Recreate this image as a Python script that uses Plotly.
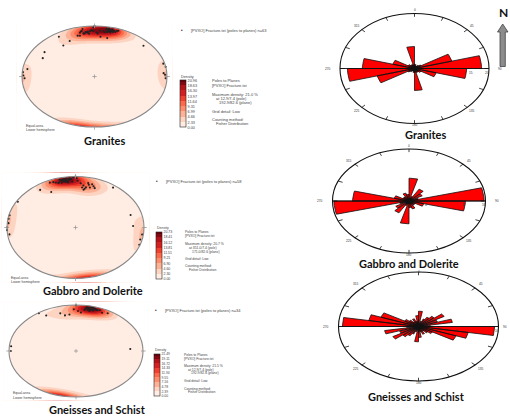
import numpy as np
import plotly.graph_objects as go

W, H = 510, 416

# ---------------- stereonet data: poles to fracture planes (trend, plunge, deg) ----------------
granite_trend = [352, 355, 348, 350, 357, 346, 353, 359, 351, 356, 344, 349, 354, 347, 358,
                 10, 12, 14, 13, 16, 11, 15, 18, 9, 13, 17, 12, 14, 19, 11, 15, 13, 20, 8,
                 0, 328, 334, 325, 305, 297, 279, 48, 6, 13, 75, 79,
                 2, 5, 359, 3,
                 88, 92, 86, 271, 268, 275,
                 354, 350, 16, 12, 14, 350, 10]
granite_plunge = [12, 16, 10, 14, 9, 18, 13, 10, 15, 11, 17, 9, 14, 12, 10,
                  6, 8, 5, 9, 7, 10, 4, 8, 12, 7, 6, 3, 9, 5, 11, 8, 7, 4, 10,
                  0, 8, 23, 26, 17, 21, 7, 10, 22, 23, 2, 0,
                  14, 10, 3, 16,
                  3, 2, 5, 2, 4, 1,
                  12, 5, 9, 6, 11, 15, 4]

gabbro_trend = [351, 348, 353, 346, 350, 355, 344, 352, 349, 357, 347, 351, 354, 342, 350, 353,
                348, 356, 345, 352, 349, 351, 340, 355, 347, 350,
                5, 8, 12, 15, 10, 18, 7, 13, 20, 9, 16, 11,
                325, 333, 301, 284, 270, 267, 73, 88, 35, 0, 337,
                98, 104, 110,
                275, 280, 262,
                1, 358, 2]
gabbro_plunge = [7, 5, 9, 4, 8, 6, 10, 3, 7, 11, 5, 9, 6, 8, 4, 12,
                 7, 5, 9, 6, 8, 10, 6, 3, 11, 7,
                 14, 18, 12, 20, 24, 16, 22, 15, 19, 26, 13, 21,
                 11, 23, 2, 1, 0, 0, 17, 17, 5, 0, 5,
                 2, 3, 1,
                 2, 1, 3,
                 4, 2, 9]

gneiss_trend = [12, 14, 10, 16, 13, 18, 11, 15, 9, 20, 13, 17, 12, 22, 14, 8, 16, 19, 11, 13,
                326, 330, 344, 348, 353, 270, 276, 87, 0,
                2, 358, 25, 30, 5]
gneiss_plunge = [6, 8, 4, 7, 10, 5, 9, 3, 7, 6, 12, 4, 8, 5, 2, 11, 9, 7, 5, 3,
                 1, 12, 16, 22, 21, 3, 3, 20, 1,
                 14, 10, 9, 6, 17]

# density colour-bar levels (%)
granite_levels = [0.00, 2.33, 4.66, 6.99, 9.31, 11.64, 13.97, 16.30, 18.63, 20.96]
gabbro_levels = [0.00, 2.30, 4.60, 6.90, 9.21, 11.51, 13.81, 16.12, 18.41, 20.73]
gneiss_levels = [0.00, 2.39, 4.78, 7.16, 9.55, 11.94, 14.33, 16.72, 19.11, 21.49]

granite_stats = ["Poles to Planes", "[PVXO] Fracture.txt", "Maximum density: 21.0 %",
                 "at 12.9/7.4 (pole)", "192.9/82.6 (plane)", "Grid detail: Low",
                 "Counting method:", "Fisher Distribution"]
gabbro_stats = ["Poles to Planes", "[PVXO] Fracture.txt", "Maximum density: 20.7 %",
                "at 351.0/7.4 (pole)", "171.0/82.6 (plane)", "Grid detail: Low",
                "Counting method:", "Fisher Distribution"]
gneiss_stats = ["Poles to Planes", "[PVXO] Fracture.txt", "Maximum density: 21.5 %",
                "at 12.9/7.4 (pole)", "192.9/82.6 (plane)", "Grid detail: Low",
                "Counting method:", "Fisher Distribution"]

# ---------------- rose diagram data: strike bins (bidirectional, mirrored at +180) ----------------
granite_bins = [0, 15, 30, 45, 60, 75, 90, 105, 120, 135, 150, 165]
granite_rose = [1.5, 1.0, 1.5, 2.0, 10.4, 18.0, 14.0, 6.0, 2.0, 1.5, 1.5, 8.0]
gabbro_bins = [0, 15, 30, 45, 60, 75, 90, 105, 120, 135, 150, 165]
gabbro_rose = [7.0, 1.5, 4.2, 3.2, 2.0, 15.7, 11.8, 3.2, 1.5, 1.5, 2.5, 2.0]
gneiss_bins = [0, 10, 20, 30, 40, 50, 60, 70, 80, 90, 100, 110, 120, 130, 140, 150, 160, 170]
gneiss_rose = [2.8, 1.0, 1.5, 2.0, 2.5, 3.7, 2.5, 4.3, 1.5, 9.5, 6.3, 5.0, 2.0, 1.5, 1.0, 1.5, 1.0, 2.0]
bin_width = [15, 15, 10]
rose_max = [20, 16, 10]
rose_scale_labels = [[("15", 0.78), ("20", 1.0)], [("4", 0.25), ("12", 0.75), ("16", 1.0)],
                     [("5", 0.5), ("10", 1.0)]]
rose_dir_labels = ["0", "45", "90", "135", "180", "225", "270", "315"]

titles = ["Granites", "Gabbro and Dolerite", "Gneisses and Schist"]

REDS = ['#fff5f0', '#fee0d2', '#fcbba1', '#fc9272', '#fb6a4a', '#ef3b2c', '#cb181d', '#a50f15', '#67000d']
FONT = "Liberation Sans"
TFONT = "Lato"
TSIZE = 11
PAD = 1.08
KAPPA = 30.0

fig = go.Figure()
annotations = []
shapes = []


def px(x, y):
    return x / W, 1 - y / H


def text(x, y, s, size=4.2, anchor="left", color="#444", family=FONT):
    xp, yp = px(x, y)
    annotations.append(dict(x=xp, y=yp, xref="paper", yref="paper", text=s, showarrow=False,
                            xanchor=anchor, yanchor="middle", borderpad=0,
                            font=dict(size=size, color=color, family=family)))


def make_axes(idx, cx, cy, a, b):
    x0, x1 = (cx - a * PAD) / W, (cx + a * PAD) / W
    y0, y1 = 1 - (cy + b * PAD) / H, 1 - (cy - b * PAD) / H
    sx = "" if idx == 1 else str(idx)
    fig.layout["xaxis" + sx] = dict(domain=[x0, x1], range=[-PAD, PAD], visible=False,
                                    anchor="y" + sx, fixedrange=True)
    fig.layout["yaxis" + sx] = dict(domain=[y0, y1], range=[-PAD, PAD], visible=False,
                                    anchor="x" + sx, fixedrange=True)
    return "x" + sx, "y" + sx


def pole_vectors(trend, plunge):
    t = np.radians(np.asarray(trend, float))
    colat = np.radians(90 - np.asarray(plunge, float))
    return np.stack([np.sin(colat) * np.sin(t), np.sin(colat) * np.cos(t), np.cos(colat)], -1)


def pole_xy(trend, plunge):
    t = np.radians(np.asarray(trend, float))
    r = np.sqrt(2) * np.sin(np.radians(90 - np.asarray(plunge, float)) / 2)
    return r * np.sin(t), r * np.cos(t)


stereo_geo = [(94.5, 76.5, 72.5, 50.5), (75.5, 227.5, 68.5, 51.0), (76.0, 351.0, 67.0, 46.0)]
cbar_geo = [(180, 81, 127.5), (156, 232, 279), (154, 354.5, 396)]
legend_geo = [(182, 30.5), (157, 181), (156, 310.5)]
stats_geo = [(211, [81, 85.5, 94.3, 98.3, 102.7, 111, 119, 123.3], 4.0),
             (184, [232.3, 235.7, 244, 247.7, 251.7, 258.7, 266.3, 269.7], 3.4),
             (183, [355.3, 358.7, 366, 369.7, 373.3, 381, 388.7, 392.3], 3.4)]
cbar_font = [3.8, 3.5, 3.4]
ea_geo = [(25, 126, 130), (10, 277.5, 281.5), (12, 393.3, 397.7)]
left_title_geo = [(104, 140), (92.5, 290), (97, 409.5)]

stereo_sets = [(granite_trend, granite_plunge, granite_levels, granite_stats),
               (gabbro_trend, gabbro_plunge, gabbro_levels, gabbro_stats),
               (gneiss_trend, gneiss_plunge, gneiss_levels, gneiss_stats)]

# density grid in projected (equal-area, lower hemisphere) coordinates
g = np.linspace(-PAD, PAD, 201)
GX, GY = np.meshgrid(g, g)
R = np.clip(np.hypot(GX, GY), 0, 1)
colat_g = 2 * np.arcsin(R / np.sqrt(2))
az_g = np.arctan2(GX, GY)
G = np.stack([np.sin(colat_g) * np.sin(az_g), np.sin(colat_g) * np.cos(az_g), np.cos(colat_g)], -1)

circle_t = np.linspace(0, 2 * np.pi, 181)

for i, ((tr, pl, levels, stats), (cx, cy, a, b)) in enumerate(zip(stereo_sets, stereo_geo)):
    xa, ya = make_axes(i + 1, cx, cy, a, b)
    P = pole_vectors(tr, pl)
    dens = np.exp(KAPPA * (np.abs(G @ P.T) - 1)).sum(-1)
    zmax = levels[-1]
    dens = dens / dens.max() * zmax
    cbx, cby0, cby1 = cbar_geo[i]
    fig.add_trace(go.Contour(
        x=g, y=g, z=dens, xaxis=xa, yaxis=ya, zmin=0, zmax=zmax, autocontour=False,
        contours=dict(start=0, end=zmax, size=zmax / 9, coloring="fill", showlines=False),
        line=dict(width=0), colorscale=[[k / 8, c] for k, c in enumerate(REDS)], hoverinfo="skip",
        colorbar=dict(x=cbx / W, xanchor="left", y=1 - cby1 / H, yanchor="bottom",
                      len=(cby1 - cby0) / H, lenmode="fraction", thickness=6, thicknessmode="pixels",
                      xpad=0, ypad=0, outlinewidth=0.6, outlinecolor="#222",
                      tickvals=levels, ticktext=[f"{v:.2f}" for v in levels], ticks="",
                      tickfont=dict(size=cbar_font[i], color="#444", family=FONT))))
    # white mask outside the primitive circle
    rx = [1.3, 1.3, -1.3, -1.3, 1.3, 1.3]
    ry = [0, 1.3, 1.3, -1.3, -1.3, 0]
    mx = rx + list(np.cos(-circle_t)) + [1.3]
    my = ry + list(np.sin(-circle_t)) + [0]
    fig.add_trace(go.Scatter(x=mx, y=my, xaxis=xa, yaxis=ya, mode="lines", fill="toself",
                             fillcolor="white", line=dict(width=0), hoverinfo="skip", showlegend=False))
    # poles
    ppx, ppy = pole_xy(tr, pl)
    fig.add_trace(go.Scatter(x=ppx, y=ppy, xaxis=xa, yaxis=ya, mode="markers",
                             marker=dict(size=2.1, color="#222"), hoverinfo="skip", showlegend=False))
    # primitive circle, ticks, centre cross
    shapes.append(dict(type="circle", xref=xa, yref=ya, x0=-1, x1=1, y0=-1, y1=1,
                       line=dict(color="#888", width=1.1)))
    for (x0, y0, x1, y1) in [(0, 0.96, 0, 1.05), (0, -0.96, 0, -1.05), (0.97, 0, 1.04, 0), (-0.97, 0, -1.04, 0),
                             (-0.03, 0, 0.03, 0), (0, -0.04, 0, 0.04)]:
        shapes.append(dict(type="line", xref=xa, yref=ya, x0=x0, y0=y0, x1=x1, y1=y1,
                           line=dict(color="#999", width=0.8)))
    # colour bar heading, legend, statistics
    text(cbx, cby0 - 4.5, "Density", size=cbar_font[i])
    lx, ly = legend_geo[i]
    text(lx, ly, "•", size=4.5, color="#222", anchor="center")
    text(lx + 8, ly, f"[PVXO] Fracture.txt (poles to planes) n={len(tr)}", size=4.0)
    sx0, sys_, ssz = stats_geo[i]
    indents = [0, 0, 0, 4, 7, 0, 0, 4]
    for s, yy, ind in zip(stats, sys_, indents):
        text(sx0 + ind, yy, s, size=ssz)
    ex, ey0, ey1 = ea_geo[i]
    text(ex, ey0, "Equal-area", size=3.5)
    text(ex, ey1, "Lower hemisphere", size=3.5)
    tx, ty = left_title_geo[i]
    text(tx, ty, "<b>" + titles[i] + "</b>", size=TSIZE, anchor="center", color="#111", family=TFONT)

# ---------------- rose diagrams ----------------
rose_geo = [(414.5, 68.5, 74.5, 55.0), (409.0, 201.0, 76.5, 52.0), (418.5, 326.5, 80.0, 54.5)]
right_title_geo = [(425, 134), (408.5, 263.5), (416.7, 396)]
rose_sets = [(granite_bins, granite_rose), (gabbro_bins, gabbro_rose), (gneiss_bins, gneiss_rose)]

for i, ((bins, vals), (cx, cy, a, b)) in enumerate(zip(rose_sets, rose_geo)):
    xa, ya = make_axes(i + 4, cx, cy, a, b)
    xs, ys = [], []
    for b0, v in zip(bins, vals):
        L = v / rose_max[i]
        for base in (b0, b0 + 180):
            ang = np.radians(np.linspace(base, base + bin_width[i], 7))
            xs += [0.0] + list(L * np.sin(ang)) + [0.0, None]
            ys += [0.0] + list(L * np.cos(ang)) + [0.0, None]
    shapes.append(dict(type="circle", xref=xa, yref=ya, x0=-1, x1=1, y0=-1, y1=1,
                       line=dict(color="#111", width=1.1)))
    shapes.append(dict(type="line", xref=xa, yref=ya, x0=-1, x1=1, y0=0, y1=0,
                       line=dict(color="#111", width=0.9)))
    for k in range(16):
        t = np.radians(22.5 * k)
        shapes.append(dict(type="line", xref=xa, yref=ya, x0=0.94 * np.sin(t), y0=0.94 * np.cos(t),
                           x1=np.sin(t), y1=np.cos(t), line=dict(color="#111", width=0.8)))
    fig.add_trace(go.Scatter(x=xs, y=ys, xaxis=xa, yaxis=ya, mode="lines", fill="toself",
                             fillcolor="#ff0000", line=dict(color="#111", width=0.8),
                             hoverinfo="skip", showlegend=False))
    shapes.append(dict(type="circle", xref=xa, yref=ya, x0=-0.045, x1=0.045, y0=-0.06, y1=0.06,
                       fillcolor="#111", line=dict(width=0), layer="above"))
    for k, lab in enumerate(rose_dir_labels):
        t = np.radians(45 * k)
        rr = 1.0 if k % 4 == 0 else 1.1
        lx = cx + a * rr * np.sin(t)
        ly = cy - b * rr * np.cos(t)
        if k == 0:
            ly -= 0.5 if i == 2 else 3.0
        if k == 4:
            ly += 1.5
        if k == 2:
            lx = min(lx + 4, 505)
        if k == 6:
            lx -= 5
        text(lx, ly, lab, size=3.2, anchor="center", color="#333")
    for lab, r in rose_scale_labels[i]:
        text(cx + a * r - 2, cy + 4, lab, size=3.2, anchor="center", color="#333")
    tx, ty = right_title_geo[i]
    text(tx, ty, "<b>" + titles[i] + "</b>", size=TSIZE, anchor="center", color="#111", family=TFONT)

# north arrow
text(503, 12, "<b>N</b>", size=12, anchor="center", color="#111", family=TFONT)
shapes.append(dict(type="path", xref="paper", yref="paper",
                   path=("M {} {} L {} {} L {} {} L {} {} L {} {} L {} {} L {} {} Z").format(
                       *px(502.7, 24), *px(508, 32), *px(505.3, 32), *px(505.3, 66.5),
                       *px(500, 66.5), *px(500, 32), *px(497.5, 32)),
                   fillcolor="#8c8c8c", line=dict(color="#444", width=0.8)))

fig.update_layout(width=W, height=H, margin=dict(l=0, r=0, t=0, b=0), paper_bgcolor="white",
                  plot_bgcolor="rgba(0,0,0,0)", showlegend=False, annotations=annotations, shapes=shapes)
fig.write_html("out.html")
